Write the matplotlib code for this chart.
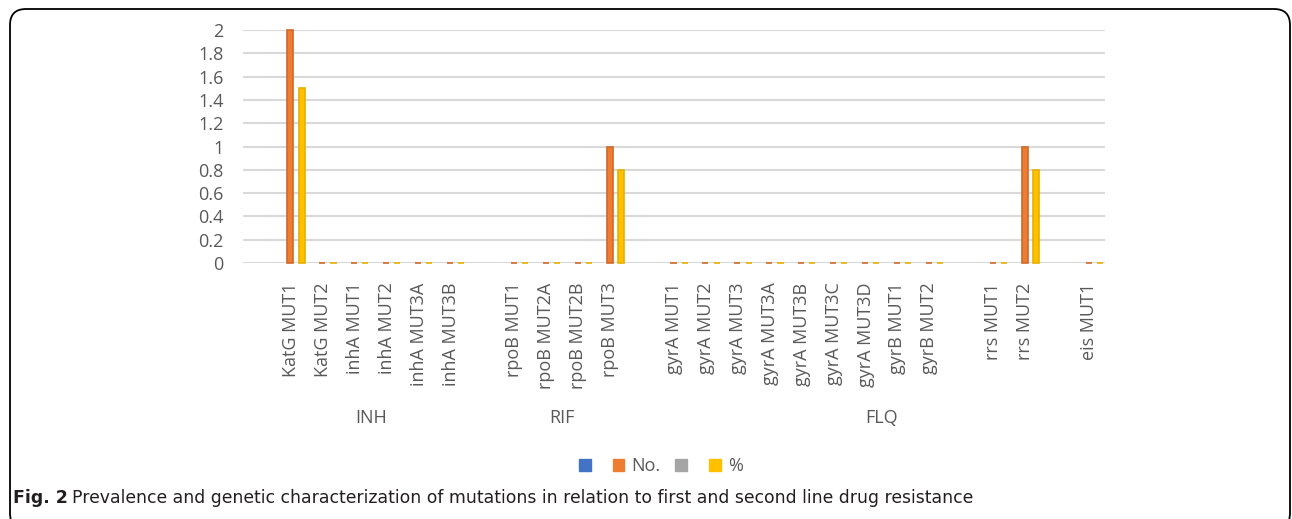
import numpy as np
import matplotlib
matplotlib.use("Agg")
import matplotlib.pyplot as plt
import matplotlib.transforms as mtransforms
from matplotlib.patches import FancyBboxPatch, Patch

# category slots (blank slots separate the drug groups)
categories = ['', 'KatG MUT1', 'KatG MUT2', 'inhA MUT1', 'inhA MUT2', 'inhA MUT3A', 'inhA MUT3B',
              '', 'rpoB MUT1', 'rpoB MUT2A', 'rpoB MUT2B', 'rpoB MUT3',
              '', 'gyrA MUT1', 'gyrA MUT2', 'gyrA MUT3', 'gyrA MUT3A', 'gyrA MUT3B', 'gyrA MUT3C',
              'gyrA MUT3D', 'gyrB MUT1', 'gyrB MUT2',
              '', 'rrs MUT1', 'rrs MUT2', '', 'eis MUT1']
nan = np.nan
no_vals = [nan, 2, 0, 0, 0, 0, 0,
           nan, 0, 0, 0, 1,
           nan, 0, 0, 0, 0, 0, 0, 0, 0, 0,
           nan, 0, 1, nan, 0]
pct_vals = [nan, 1.5, 0, 0, 0, 0, 0,
            nan, 0, 0, 0, 0.8,
            nan, 0, 0, 0, 0, 0, 0, 0, 0, 0,
            nan, 0, 0.8, nan, 0]
groups = ['INH', 'RIF', 'FLQ']
group_centers = [3.5, 9.5, 19.5]
yticks = [0, 0.2, 0.4, 0.6, 0.8, 1, 1.2, 1.4, 1.6, 1.8, 2]

txt = '#595959'
font = ['Open Sans', 'DejaVu Sans']
plt.rcParams['font.family'] = font

fig = plt.figure(figsize=(12.92, 5.19), dpi=100)
ax = fig.add_axes([243/1292, 1-263/519, 862/1292, 233/519])

x = np.arange(len(categories))
w = 0.19
off = 0.08
# blue and grey series carry no data
ax.bar(x - 1.5*w + off, [nan]*len(x), w, color='#4472C4')
ax.bar(x - 0.5*w + off, no_vals, w, color='#ED7D31', edgecolor='#D0692A', linewidth=1.2, zorder=3, clip_on=False)
ax.bar(x + 0.5*w + off, [nan]*len(x), w, color='#A5A5A5')
ax.bar(x + 1.5*w + off - 0.03, pct_vals, w, color='#FFC000', edgecolor='#E8B000', linewidth=1.2, zorder=3, clip_on=False)

ax.set_xlim(-0.5, len(categories) - 0.5)
ax.set_ylim(0, 2)
ax.set_yticks(yticks)
ax.set_yticklabels(['%g' % v for v in yticks])
ax.set_xticks(x)
ax.set_xticklabels(categories, rotation=90)
ax.tick_params(axis='y', length=0, pad=14, labelsize=13, labelcolor=txt)
ax.tick_params(axis='x', length=0, pad=14, labelsize=13, labelcolor=txt)
for lab in ax.get_xticklabels():
    lab.set_verticalalignment('top')
ax.grid(axis='y', color='#D9D9D9', linewidth=1.5, zorder=0)
ax.set_axisbelow(True)
for s in ax.spines.values():
    s.set_visible(False)

trans = mtransforms.blended_transform_factory(ax.transData, fig.transFigure)
for g, c in zip(groups, group_centers):
    ax.text(c, 1-418/519, g, transform=trans, ha='center', va='center', fontsize=13, color=txt)

handles = [Patch(color='#4472C4', label=''), Patch(color='#ED7D31', label='No.'),
           Patch(color='#A5A5A5', label=''), Patch(color='#FFC000', label='%')]
fig.legend(handles=handles, loc='center', bbox_to_anchor=(661/1292, 1-466/519), ncol=4, frameon=False,
           fontsize=13, handlelength=0.65, handleheight=0.65, handletextpad=0.4, columnspacing=0.8,
           labelcolor=txt)

# outer rounded frame, drawn in pixel units
frame = FancyBboxPatch((10, -10), 1280, 519 - 8 + 10 - 1, boxstyle='round,pad=0,rounding_size=16',
                       transform=mtransforms.IdentityTransform(), fill=False, edgecolor='black', linewidth=1.3)
fig.patches.append(frame)

fig.text(13/1292, 1-498/519, 'Fig. 2', fontsize=12.5, fontweight='bold', va='center', color='#231F20',
         family='DejaVu Sans')
fig.text(72/1292, 1-498/519, 'Prevalence and genetic characterization of mutations in relation to first and second line drug resistance',
         fontsize=12.4, va='center', color='#231F20', family='DejaVu Sans')

fig.savefig('out.png', dpi=100)
